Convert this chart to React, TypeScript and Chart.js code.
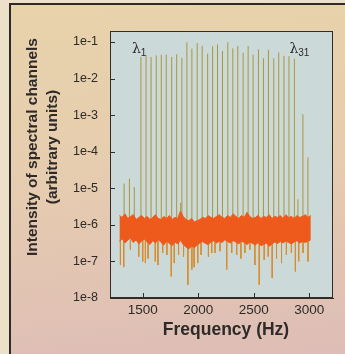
import React, { useEffect, useRef } from "react";
import { Chart, registerables } from "chart.js";

Chart.register(...registerables);

// ---------------- data ----------------
const xTickValues = [1500, 2000, 2500, 3000];
const xTickLabels = ["1500", "2000", "2500", "3000"];
const yTickValues = [1e-8, 1e-7, 1e-6, 1e-5, 1e-4, 1e-3, 1e-2, 1e-1];
const yTickLabels = ["1e-8", "1e-7", "1e-6", "1e-5", "1e-4", "1e-3", "1e-2", "1e-1"];

const xTitle = "Frequency (Hz)";
const yTitleLines = ["Intensity of spectral channels", "(arbitrary units)"];
const channelLabels = [
  { symbol: "λ", sub: "1", channel: 0 },
  { symbol: "λ", sub: "31", channel: 30 },
];

// 31 spectral channels (Hz) and their peak intensities
const peakFreqs = [
  1484, 1530, 1575, 1622, 1667, 1712, 1761, 1806, 1853, 1898, 1943, 1991, 2036,
  2085, 2130, 2174, 2219, 2267, 2312, 2357, 2405, 2450, 2495, 2543, 2588, 2633,
  2681, 2726, 2773, 2818, 2867,
];
const peakValues = [
  0.039, 0.044, 0.039, 0.043, 0.045, 0.045, 0.039, 0.046, 0.037, 0.098, 0.066,
  0.094, 0.079, 0.048, 0.076, 0.086, 0.057, 0.098, 0.067, 0.078, 0.051, 0.078,
  0.045, 0.063, 0.036, 0.062, 0.036, 0.052, 0.042, 0.041, 0.035,
];

// weak side lines
const sideFreqs = [1332, 1380, 1424, 1842, 2899, 2944, 2989];
const sideValues = [1.35e-5, 1.84e-5, 1.08e-5, 4e-6, 5e-6, 1.05e-3, 7e-5];

// noise floor envelope
const noiseFreqs = [
  1290, 1315, 1340, 1365, 1390, 1415, 1440, 1465, 1490, 1515,
  1540, 1565, 1590, 1615, 1640, 1665, 1690, 1715, 1740, 1765,
  1790, 1815, 1840, 1865, 1890, 1915, 1940, 1965, 1990, 2015,
  2040, 2065, 2090, 2115, 2140, 2165, 2190, 2215, 2240, 2265,
  2290, 2315, 2340, 2365, 2390, 2415, 2440, 2465, 2490, 2515,
  2540, 2565, 2590, 2615, 2640, 2665, 2690, 2715, 2740, 2765,
  2790, 2815, 2840, 2865, 2890, 2915, 2940, 2965, 2990, 3015,
];
const noiseHigh = [
  1.8e-6, 1.6e-6, 2.0e-6, 1.5e-6, 1.7e-6, 1.9e-6, 1.4e-6, 1.6e-6, 1.8e-6, 1.5e-6,
  1.7e-6, 1.4e-6, 1.6e-6, 1.9e-6, 1.5e-6, 1.4e-6, 1.7e-6, 1.5e-6, 1.8e-6, 1.4e-6,
  1.6e-6, 1.5e-6, 2.4e-6, 1.7e-6, 1.4e-6, 1.3e-6, 1.5e-6, 1.2e-6, 1.3e-6, 1.4e-6,
  1.6e-6, 1.5e-6, 1.8e-6, 1.6e-6, 1.5e-6, 1.7e-6, 1.9e-6, 1.6e-6, 1.5e-6, 1.8e-6,
  1.6e-6, 2.0e-6, 1.7e-6, 1.5e-6, 1.8e-6, 1.6e-6, 2.2e-6, 1.7e-6, 1.5e-6, 1.6e-6,
  1.8e-6, 1.5e-6, 1.7e-6, 1.6e-6, 1.9e-6, 1.5e-6, 1.7e-6, 1.6e-6, 1.8e-6, 1.5e-6,
  1.9e-6, 1.6e-6, 1.7e-6, 1.5e-6, 1.8e-6, 1.6e-6, 1.7e-6, 1.9e-6, 1.6e-6, 1.8e-6,
];
const noiseLow = [
  3.5e-7, 4.2e-7, 3.2e-7, 3.8e-7, 4.4e-7, 3.3e-7, 3.9e-7, 3.0e-7, 3.6e-7, 4.1e-7,
  3.4e-7, 2.9e-7, 3.7e-7, 3.2e-7, 4.0e-7, 3.3e-7, 2.8e-7, 3.6e-7, 3.1e-7, 2.7e-7,
  3.4e-7, 3.0e-7, 3.8e-7, 2.9e-7, 2.5e-7, 2.2e-7, 2.6e-7, 2.4e-7, 2.8e-7, 3.2e-7,
  3.5e-7, 3.1e-7, 2.9e-7, 3.4e-7, 3.7e-7, 3.2e-7, 3.6e-7, 3.3e-7, 3.9e-7, 3.5e-7,
  3.2e-7, 3.7e-7, 3.4e-7, 3.0e-7, 3.6e-7, 3.3e-7, 2.9e-7, 3.4e-7, 3.1e-7, 2.8e-7,
  3.3e-7, 2.7e-7, 2.9e-7, 3.2e-7, 2.6e-7, 3.0e-7, 3.4e-7, 3.1e-7, 3.5e-7, 3.2e-7,
  3.6e-7, 3.3e-7, 3.0e-7, 3.4e-7, 3.7e-7, 3.2e-7, 3.5e-7, 3.3e-7, 3.6e-7, 3.9e-7,
];

// downward noise spikes
const spikeFreqs = [
  1299, 1329, 1389, 1464, 1500, 1524, 1548, 1613, 1637, 1680, 1718, 1757, 1784,
  1823, 1868, 1907, 1943, 1963, 1996, 2026, 2092, 2122, 2152, 2197, 2257, 2302,
  2347, 2385, 2421, 2466, 2511, 2550, 2595, 2631, 2667, 2706, 2751, 2795, 2840,
  2876, 2906, 2945, 2990,
];
const spikeMins = [
  8e-8, 7e-8, 2.1e-7, 1.35e-7, 1e-7, 9e-8, 1.2e-7, 1e-7, 8e-8, 1.7e-7, 1.5e-7,
  3.9e-8, 9e-8, 1.5e-7, 1.35e-7, 2.3e-8, 6e-8, 7e-8, 9e-8, 1.5e-7, 1.35e-7,
  1.7e-7, 1.7e-7, 1.9e-7, 6e-8, 1.7e-7, 1.5e-7, 1.2e-7, 1.7e-7, 2.1e-7, 8e-8,
  2.3e-8, 1.1e-7, 1.35e-7, 3.5e-8, 1.2e-7, 9e-8, 1.5e-7, 1.7e-7, 5.3e-8, 1e-7,
  1.7e-7, 1e-7,
];

const noiseFloor = 1e-6;
const spikeStart = 4e-7;

// ---------------- styling ----------------
const PLOT_BG = "#cbdad9";
const AXIS = "#2f2c2a";
const TEXT = "#2e2a28";
const NOISE = "#ee5a1c";
const SPIKE = "#d88c2c";
const PEAK = "#a8963f";
const SANS = "'Liberation Sans', Arial, Helvetica, sans-serif";

function segments(freqs: number[], vals: number[], base: number) {
  const out: any[] = [];
  freqs.forEach((f, i) => {
    out.push({ x: f, y: base }, { x: f, y: vals[i] }, { x: f, y: null });
  });
  return out;
}

const decorPlugin = {
  id: "decor",
  beforeDraw(chart: any) {
    const { ctx, chartArea: a } = chart;
    ctx.save();
    ctx.fillStyle = PLOT_BG;
    ctx.fillRect(a.left, a.top, a.right - a.left, a.bottom - a.top);
    ctx.restore();
  },
  afterDraw(chart: any) {
    const { ctx, chartArea: a, scales } = chart;
    const xs = scales.x;
    const ys = scales.y;
    ctx.save();
    // frame
    ctx.strokeStyle = AXIS;
    ctx.lineWidth = 1;
    ctx.strokeRect(a.left + 0.5, a.top + 0.5, a.right - a.left - 1, a.bottom - a.top - 1);
    // inside ticks
    ctx.beginPath();
    yTickValues.forEach((v) => {
      const py = Math.round(ys.getPixelForValue(v)) + 0.5;
      ctx.moveTo(a.left, py);
      ctx.lineTo(a.left + 5, py);
    });
    xTickValues.forEach((v) => {
      const px = Math.round(xs.getPixelForValue(v)) + 0.5;
      ctx.moveTo(px, a.bottom);
      ctx.lineTo(px, a.bottom - 5);
    });
    ctx.stroke();

    // channel labels
    ctx.fillStyle = TEXT;
    channelLabels.forEach((c, k) => {
      const px = xs.getPixelForValue(peakFreqs[c.channel]);
      const base = ys.getPixelForValue(0.1) + 11;
      const lx = k === 0 ? px - 9 : px - 5;
      ctx.font = `14px 'DejaVu Serif', 'Liberation Serif', serif`;
      ctx.textAlign = "left";
      ctx.textBaseline = "alphabetic";
      ctx.fillText(c.symbol, lx, base);
      const w = ctx.measureText(c.symbol).width;
      ctx.font = `10px ${SANS}`;
      ctx.fillText(c.sub, lx + w, base + 3);
    });

    // axis titles
    ctx.fillStyle = TEXT;
    ctx.textAlign = "center";
    ctx.textBaseline = "middle";
    ctx.font = `bold 17.5px ${SANS}`;
    ctx.fillText(xTitle, (a.left + a.right) / 2 + 4.5, a.bottom + 32);
    ctx.font = `bold 15.5px ${SANS}`;
    yTitleLines.forEach((line, i) => {
      ctx.save();
      ctx.translate(33 + i * 20, 147);
      ctx.rotate(-Math.PI / 2);
      ctx.fillText(line, 0, 0);
      ctx.restore();
    });
    ctx.restore();
  },
};

export default function App() {
  const ref = useRef<HTMLCanvasElement | null>(null);

  useEffect(() => {
    if (!ref.current) return;
    const noiseUpper = noiseFreqs.map((f, i) => ({ x: f, y: noiseHigh[i] }));
    const noiseLower = noiseFreqs.map((f, i) => ({ x: f, y: noiseLow[i] }));
    const chart = new Chart(ref.current, {
      type: "line",
      data: {
        datasets: [
          {
            label: "noise high",
            data: noiseUpper,
            borderColor: NOISE,
            borderWidth: 1,
            pointRadius: 0,
            fill: false,
            order: 0,
          },
          {
            label: "noise low",
            data: noiseLower,
            borderColor: NOISE,
            backgroundColor: NOISE,
            borderWidth: 1,
            pointRadius: 0,
            fill: "-1",
            order: 0,
          },
          {
            label: "spikes",
            data: segments(spikeFreqs, spikeMins, spikeStart),
            borderColor: SPIKE,
            borderWidth: 1,
            pointRadius: 0,
            spanGaps: false,
            order: 1,
          },
          {
            label: "side lines",
            data: segments(sideFreqs, sideValues, noiseFloor),
            borderColor: PEAK,
            borderWidth: 1,
            pointRadius: 0,
            spanGaps: false,
            order: 2,
          },
          {
            label: "channels",
            data: segments(peakFreqs, peakValues, noiseFloor),
            borderColor: PEAK,
            borderWidth: 1,
            pointRadius: 0,
            spanGaps: false,
            order: 2,
          },
        ],
      },
      options: {
        responsive: false,
        animation: false,
        events: [],
        layout: { padding: { top: 31, right: 12, left: 0, bottom: 0 } },
        plugins: { legend: { display: false }, tooltip: { enabled: false } },
        elements: { line: { tension: 0 } },
        scales: {
          x: {
            type: "linear",
            min: 1205,
            max: 3215,
            afterFit: (s: any) => {
              s.height = 56;
            },
            afterBuildTicks: (s: any) => {
              s.ticks = xTickValues.map((v) => ({ value: v }));
            },
            ticks: {
              padding: -4,
              color: TEXT,
              font: { family: SANS, size: 13.5 },
              maxRotation: 0,
              callback: (v: any) => {
                const i = xTickValues.indexOf(Number(v));
                return i >= 0 ? xTickLabels[i] : "";
              },
            },
            grid: { display: false },
            border: { display: true, color: AXIS, width: 1 },
          },
          y: {
            type: "logarithmic",
            min: 1e-8,
            max: 0.2,
            afterFit: (s: any) => {
              s.width = 110;
            },
            afterBuildTicks: (s: any) => {
              s.ticks = yTickValues.map((v) => ({ value: v }));
            },
            ticks: {
              padding: 4,
              color: TEXT,
              font: { family: SANS, size: 12.5 },
              callback: (v: any) => {
                const i = yTickValues.indexOf(Number(v));
                return i >= 0 ? yTickLabels[i] : "";
              },
            },
            grid: { display: false },
            border: { display: true, color: AXIS, width: 1 },
          },
        },
      },
      plugins: [decorPlugin],
    } as any);
    return () => chart.destroy();
  }, []);

  return (
    <div
      style={{
        position: "fixed",
        left: 0,
        top: 0,
        width: 345,
        height: 354,
        overflow: "hidden",
        background: "#ece0c8",
      }}
    >
      <div
        style={{
          position: "absolute",
          left: 9,
          top: 3,
          right: 0,
          bottom: 0,
          borderTop: "2px solid #2e2a28",
          borderLeft: "2px solid #2e2a28",
          background:
            "linear-gradient(175deg, #e8d3ab 0%, #e6cdaf 45%, #e2c4b3 75%, #ddbdb6 100%)",
        }}
      />
      <canvas
        ref={ref}
        width={345}
        height={354}
        style={{ position: "absolute", left: 0, top: 0, width: 345, height: 354 }}
      />
    </div>
  );
}
